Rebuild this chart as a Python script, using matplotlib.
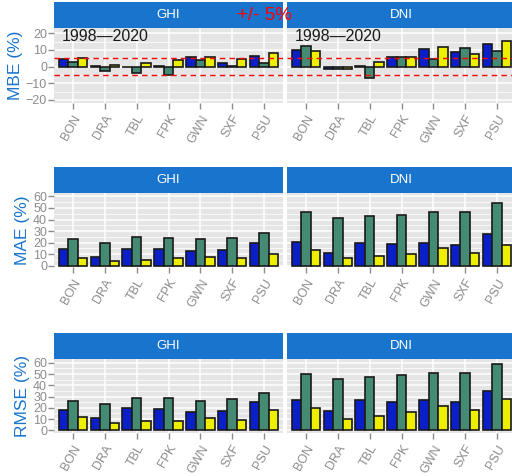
"""
Station error statistics (MBE / MAE / RMSE) for GHI and DNI, 1998-2020.
Faceted grouped bars, ggplot-like styling.
"""

import numpy as np
import matplotlib.pyplot as plt
from matplotlib.ticker import MultipleLocator

# --- Data -----------------------------------------------------------------

STATIONS = ["BON", "DRA", "TBL", "FPK", "GWN", "SXF", "PSU"]
SERIES = ["Model 1", "Model 2", "Model 3"]

# rows = series (same order as SERIES), columns = stations
MBE_GHI = [
    [4.6, 0.4, -0.3, 0.3, 5.6, 2.4, 6.2],
    [3.0, -2.4, -3.6, -5.0, 4.2, 0.2, 2.4],
    [5.0, 1.0, 2.0, 4.2, 6.0, 4.4, 8.4],
]
MBE_DNI = [
    [10.2, -1.5, 0.2, 6.0, 10.4, 8.6, 13.8],
    [12.2, -1.5, -6.6, 5.8, 4.6, 11.4, 9.4],
    [9.4, -1.5, 2.6, 5.8, 11.8, 7.8, 15.2],
]
MAE_GHI = [
    [14.0, 7.6, 14.6, 14.0, 12.6, 13.5, 19.3],
    [22.8, 19.9, 24.6, 24.0, 22.8, 24.0, 28.0],
    [7.0, 4.4, 5.3, 6.4, 7.6, 6.4, 10.5],
]
MAE_DNI = [
    [20.2, 11.1, 19.6, 18.4, 19.9, 18.1, 27.2],
    [46.2, 41.6, 42.7, 43.9, 46.8, 46.8, 54.1],
    [13.2, 7.0, 8.2, 10.0, 14.9, 10.8, 17.9],
]
RMSE_GHI = [
    [18.2, 11.2, 20.0, 18.8, 16.5, 17.6, 25.3],
    [26.5, 23.5, 28.8, 28.8, 25.9, 27.6, 32.9],
    [11.8, 6.2, 7.9, 8.2, 10.9, 8.8, 18.2],
]
RMSE_DNI = [
    [27.0, 16.8, 27.0, 25.6, 26.8, 25.3, 35.3],
    [50.0, 45.9, 47.6, 48.8, 51.2, 51.2, 58.5],
    [20.3, 10.3, 13.2, 16.2, 22.0, 17.9, 27.6],
]

PERIOD = "1998\u20142020"
MBE_BAND = 5

# --- Style ----------------------------------------------------------------

BAR_COLORS = ["#0A1FC8", "#458B74", "#EEEE00"]
STRIP_COLOR = "#1874CD"
PANEL_BG = "#E5E5E5"
TICK_GREY = "#8C8C8C"

plt.rcParams["font.family"] = ["Liberation Sans", "DejaVu Sans"]

W, H = 512, 476
fig = plt.figure(figsize=(W / 100, H / 100), dpi=100)


def px_axes(x0, y0, x1, y1):
    """Add axes from pixel box (top-left origin)."""
    return fig.add_axes([x0 / W, 1 - y1 / H, (x1 - x0) / W, (y1 - y0) / H])


def strip(x0, y0, x1, y1, label):
    sax = px_axes(x0, y0, x1, y1)
    sax.set_facecolor(STRIP_COLOR)
    sax.set_xticks([])
    sax.set_yticks([])
    for s in sax.spines.values():
        s.set_visible(False)
    sax.text(0.5, 0.5, label, color="white", fontsize=9.5,
             ha="center", va="center", transform=sax.transAxes)


def panel(x0, y0, x1, y1, data, ylim, major, show_y, ylabel=None):
    ax = px_axes(x0, y0, x1, y1)
    ax.set_facecolor(PANEL_BG)
    ax.set_axisbelow(True)
    x = np.arange(len(STATIONS))
    width = 0.3
    for j, vals in enumerate(data):
        ax.bar(x + (j - 1) * width, vals, width, color=BAR_COLORS[j],
               edgecolor="#1a1a1a", linewidth=1.2, zorder=3)
    ax.set_xlim(-0.6, len(STATIONS) - 0.4)
    ax.set_ylim(*ylim)
    ax.yaxis.set_major_locator(MultipleLocator(major))
    ax.yaxis.set_minor_locator(MultipleLocator(major / 2))
    ax.grid(which="major", color="white", linewidth=1.1)
    ax.grid(which="minor", axis="y", color="white", linewidth=0.5)
    ax.set_xticks(x)
    ax.set_xticklabels(STATIONS, rotation=60, ha="right", va="top",
                       rotation_mode="anchor", color=TICK_GREY, fontsize=9)
    ax.tick_params(axis="x", length=4, width=1, color=TICK_GREY, pad=3)
    ax.tick_params(axis="y", which="minor", length=0)
    if show_y:
        ax.tick_params(axis="y", length=4, width=1, color=TICK_GREY,
                       labelcolor=TICK_GREY, labelsize=9, pad=1)
        ax.set_ylabel(ylabel, color=STRIP_COLOR, fontsize=12.5, labelpad=2)
    else:
        ax.tick_params(axis="y", length=0, labelleft=False)
    for s in ax.spines.values():
        s.set_visible(False)
    return ax


LEFT = (54, 283)
RIGHT = (287, 516)

rows = [
    # strip top, panel top, panel bottom, data, ylim, ylabel
    (2, 28, 103, (MBE_GHI, MBE_DNI), (-21.8, 23.2), 10, "MBE (%)"),
    (167, 193, 267, (MAE_GHI, MAE_DNI), (-1.2, 63.0), 10, "MAE (%)"),
    (333, 359, 433, (RMSE_GHI, RMSE_DNI), (-2.3, 63.3), 10, "RMSE (%)"),
]

for r, (st, pt, pb, (ghi, dni), ylim, major, ylabel) in enumerate(rows):
    strip(LEFT[0], st, LEFT[1], pt, "GHI")
    strip(RIGHT[0], st, RIGHT[1], pt, "DNI")
    ax_l = panel(LEFT[0], pt, LEFT[1], pb, ghi, ylim, major, True, ylabel)
    ax_r = panel(RIGHT[0], pt, RIGHT[1], pb, dni, ylim, major, False)
    if r == 0:
        for ax in (ax_l, ax_r):
            ax.axhline(MBE_BAND, color="red", linestyle=(0, (4, 3)),
                       linewidth=1, zorder=4)
            ax.axhline(-MBE_BAND, color="red", linestyle=(0, (4, 3)),
                       linewidth=1, zorder=4)
            ax.text(0.035, 0.885, PERIOD, transform=ax.transAxes,
                    fontsize=11.5, va="center", ha="left", color="#1a1a1a",
                    zorder=5)

fig.text(264 / W, 1 - 15 / H, f"+/- {MBE_BAND}%", color="red", fontsize=13.5,
         ha="center", va="center", zorder=10)

fig.savefig("out.png", dpi=100)
